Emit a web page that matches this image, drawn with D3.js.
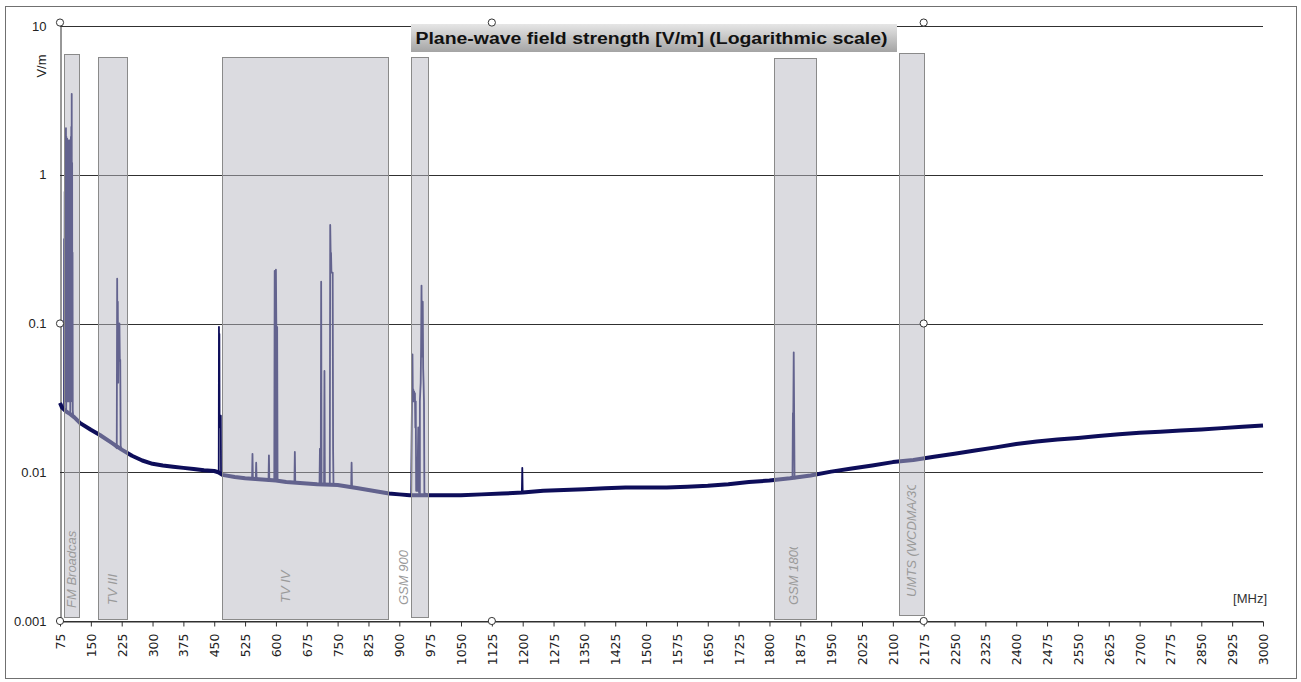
<!DOCTYPE html>
<html><head><meta charset="utf-8">
<script src="https://cdn.jsdelivr.net/npm/d3@7"></script>
<style>body{margin:0;background:#fff;} svg{display:block}</style>
</head><body><svg id="chart" width="1301" height="682"></svg>
<script>
// ---------------- DATA ----------------
const chartTitle = "Plane-wave field strength [V/m] (Logarithmic scale)";
const yUnit = "V/m";
const xUnit = "[MHz]";

const xTickValues = [75,150,225,300,375,450,525,600,675,750,825,900,975,1050,1125,1200,1275,1350,1425,1500,1575,1650,1725,1800,1875,1950,2025,2100,2175,2250,2325,2400,2475,2550,2625,2700,2775,2850,2925,3000];
const yTickValues = [10, 1, 0.1, 0.01, 0.001];
const yTickLabels = ["10", "1", "0.1", "0.01", "0.001"];

// frequency bands (MHz) and their vertical extent (V/m)
const bandNames     = ["FM Broadcast", "TV III", "TV IV", "GSM 900", "GSM 1800", "UMTS (WCDMA/3G)"];
const bandStartMHz  = [85, 167, 470, 929, 1811, 2114];
const bandEndMHz    = [121, 238, 872, 969, 1913, 2176];
const bandTopVm     = [6.48, 6.19, 6.19, 6.19, 6.05, 6.58];
const bandBottomVm  = [0.00107, 0.00103, 0.00103, 0.00107, 0.00103, 0.00110];
const bandLabelMHz  = [104, 203, 622, 910, 1858, 2146];

// measured field strength: smooth floor [MHz, V/m]
const floorReadings = [
 [75,0.0292],[80,0.0272],[90,0.0256],[100,0.0246],[110,0.0234],[124,0.0214],[150,0.0193],[172,0.0178],
 [200,0.0158],[225,0.0142],[250,0.0129],[275,0.0120],[300,0.0114],[325,0.0111],[350,0.0109],[375,0.0107],
 [400,0.0105],[425,0.0103],[450,0.0102],[460,0.0100],[470,0.0096],[500,0.0093],[525,0.0091],[550,0.0090],
 [575,0.0089],[600,0.0088],[625,0.0086],[650,0.0085],[675,0.0084],[700,0.0083],[750,0.0082],[800,0.0078],
 [825,0.0076],[850,0.0074],[875,0.0072],[900,0.0071],[925,0.0070],[950,0.0070],[975,0.0070],[1000,0.0070],
 [1050,0.0070],[1100,0.0071],[1150,0.0072],[1200,0.0073],[1250,0.0075],[1300,0.0076],[1350,0.0077],[1400,0.0078],
 [1450,0.0079],[1500,0.0079],[1550,0.0079],[1600,0.0080],[1650,0.0081],[1700,0.0083],[1750,0.0086],[1800,0.0088],
 [1850,0.0091],[1900,0.0095],[1950,0.0101],[2000,0.0106],[2050,0.0111],[2100,0.0117],[2150,0.0121],[2200,0.0127],
 [2250,0.0133],[2300,0.0140],[2350,0.0147],[2400,0.0155],[2450,0.0161],[2500,0.0166],[2550,0.0170],[2600,0.0175],
 [2650,0.0180],[2700,0.0184],[2750,0.0187],[2800,0.0191],[2850,0.0194],[2900,0.0198],[2950,0.0202],[3000,0.0206]
];

// emission peaks [MHz, V/m]
const fmPeaks = [
 [85,0.027],[85.5,0.37],[86,0.03],[86.5,0.77],[87,0.04],[87.5,1.3],[88,0.03],[88.5,2.0],[89,0.03],[89.5,2.06],
 [90.2,0.03],[90.5,1.8],[91,0.03],[91.5,1.7],[92,0.03],[92.5,1.75],[93,0.03],[93.5,1.6],[94,0.03],[94.5,1.7],
 [95,0.03],[95.5,1.65],[96,0.03],[96.5,1.7],[97,0.03],[97.5,1.6],[98,0.03],[98.5,1.7],[99,0.03],[99.5,1.6],
 [100.2,0.03],[100.5,1.5],[101,0.03],[101.5,1.8],[102,0.03],[102.5,2.1],[103,0.04],[103.5,3.5],[104,0.05],
 [104.5,1.2],[105,0.04],[105.5,0.3],[106,0.026],[107,0.024]
];
const tv3Peaks = [[213,0.0145],[214,0.2],[214.6,0.05],[215.5,0.14],[216.5,0.04],[217.5,0.1],[218.5,0.057],[219.5,0.1],[220.5,0.056],[221.5,0.057],[222.5,0.015]];
const uhfPeaks = [
 [461,0.0101],[461.5,0.095],[462,0.02],[462.5,0.085],[463,0.023],[464,0.022],[465,0.023],[466,0.024],[466.5,0.0098],
 [542,0.0090],[543,0.0133],[544,0.0090],[551,0.0089],[552,0.0116],[553,0.0089],[582,0.0088],[583,0.013],[584,0.0088],
 [596,0.0088],[597,0.226],[599,0.226],[600,0.23],[601,0.095],[603,0.095],[604,0.0088],
 [645,0.0085],[646,0.0137],[647,0.0085],[706,0.0083],[707,0.0144],[708,0.0083],[709,0.0083],[710,0.191],[711,0.0083],
 [717,0.0083],[718,0.048],[719,0.0083],[731,0.0082],[732,0.46],[733,0.30],[734,0.298],[735,0.22],[738,0.22],[739,0.0144],[740,0.0082],
 [783,0.0080],[784,0.0116],[785,0.0080]
];
const gsm900Peaks = [
 [929,0.0070],[931,0.035],[932,0.062],[933,0.03],[934,0.036],[935,0.03],[936,0.035],[937,0.03],[938,0.034],[939,0.02],[940,0.03],[941,0.0075],
 [944,0.0075],[946,0.02],[947,0.0075],[950,0.03],[951,0.035],[952,0.04],[953,0.07],[954,0.18],[955,0.06],[956,0.14],[957,0.14],[958,0.05],
 [959,0.04],[960,0.03],[961,0.0072],[963,0.0072]
];
const lBandPeaks = [[1198,0.0073],[1199,0.0107],[1200,0.0073],[1856,0.0091],[1857,0.025],[1858,0.0249],[1859,0.064],[1860,0.025],[1861,0.0091]];

// selection handles around the chart object [MHz, V/m]
const handleMHz = [75, 1125, 2175];
const handleVm  = [10.55, 0.1, 0.001];

// ---------------- LAYOUT ----------------
const svg = d3.select("#chart");
const plot = {left:60, right:1263, top:26, bottom:621};
const x = d3.scaleLinear().domain([75,3000]).range([plot.left, plot.right]);
const y = d3.scaleLog().domain([0.001,10]).range([plot.bottom, plot.top]);
const labelLayout = { startY:[608,605,603,605,605,597], clipLen:[78,200,200,200,58,112] };

// outer frame
svg.append("rect").attr("x",5.5).attr("y",6.5).attr("width",1291).attr("height",672)
  .attr("fill","#fff").attr("stroke","#707070");

// gridlines
svg.append("g").selectAll("line").data(yTickValues).join("line")
  .attr("x1",plot.left).attr("x2",plot.right)
  .attr("y1",d=>Math.round(y(d))+0.5).attr("y2",d=>Math.round(y(d))+0.5)
  .attr("stroke","#303030").attr("stroke-width",1);

// y axis
const yAxis = svg.append("g").attr("transform",`translate(${plot.left+0.5},0)`)
  .call(d3.axisLeft(y).tickValues(yTickValues).tickSize(0).tickPadding(14)
     .tickFormat((d,i)=>yTickLabels[i]));
yAxis.select(".domain").attr("stroke","#303030");
yAxis.selectAll("text").attr("font-family","Liberation Sans, Arial, sans-serif").attr("font-size",13).attr("fill","#222");

// x axis
const xAxis = svg.append("g").attr("transform",`translate(0,${Math.round(y(0.001))+0.5})`)
  .call(d3.axisBottom(x).tickValues(xTickValues).tickSize(5).tickSizeOuter(0).tickFormat(d3.format("d")));
xAxis.select(".domain").attr("stroke","#303030");
xAxis.selectAll(".tick line").attr("stroke","#303030");
xAxis.selectAll("text").attr("transform","rotate(-90)").attr("text-anchor","end")
  .attr("x",-12).attr("y",0).attr("dy","0.36em")
  .attr("font-family","DejaVu Sans, sans-serif").attr("font-size",12.5).attr("fill","#222");

// data line
const series = floorReadings.concat(fmPeaks, tv3Peaks, uhfPeaks, gsm900Peaks, lBandPeaks)
  .slice().sort((a,b)=>a[0]-b[0]);
const line = d3.line().x(d=>x(d[0])).y(d=>y(d[1]));
svg.append("path").datum(floorReadings).attr("d",line)
  .attr("fill","none").attr("stroke","#0e0e5a").attr("stroke-width",4).attr("stroke-linejoin","round");
svg.append("path").datum(series).attr("d",line)
  .attr("fill","none").attr("stroke","#0e0e5a").attr("stroke-width",1.8).attr("stroke-linejoin","round");

// bands (semi-transparent overlay)
const bands = bandNames.map((n,i)=>({name:n, s:bandStartMHz[i], e:bandEndMHz[i], top:bandTopVm[i], bot:bandBottomVm[i], lx:bandLabelMHz[i], i}));
svg.append("g").selectAll("rect").data(bands).join("rect")
  .attr("x",d=>Math.round(x(d.s))+0.5).attr("width",d=>Math.round(x(d.e))-Math.round(x(d.s)))
  .attr("y",d=>Math.round(y(d.top))+0.5).attr("height",d=>Math.round(y(d.bot))-Math.round(y(d.top)))
  .attr("fill","rgb(184,184,194)").attr("fill-opacity",0.5)
  .attr("stroke","#8a8a8a").attr("stroke-width",1);

// band labels
const defs = svg.append("defs");
bands.forEach(d=>{
  defs.append("clipPath").attr("id","clipLbl"+d.i).append("rect")
    .attr("x",0).attr("y",-10).attr("width",labelLayout.clipLen[d.i]).attr("height",20);
  svg.append("g").attr("transform",`translate(${x(d.lx)},${labelLayout.startY[d.i]}) rotate(-90)`)
    .append("text").attr("clip-path",`url(#clipLbl${d.i})`)
    .attr("x",0).attr("y",0).attr("dy","0.35em")
    .attr("font-family","Liberation Sans, Arial, sans-serif").attr("font-size",13)
    .attr("font-style","italic").attr("fill","#9a9a9a").text(d.name);
});

// title box
const grad = defs.append("linearGradient").attr("id","titleGrad").attr("x1",0).attr("y1",0).attr("x2",0).attr("y2",1);
grad.append("stop").attr("offset","0%").attr("stop-color","#e6e6e6");
grad.append("stop").attr("offset","100%").attr("stop-color","#a4a4a4");
svg.append("rect").attr("x",411).attr("y",24).attr("width",486).attr("height",28).attr("fill","url(#titleGrad)");
svg.append("text").attr("x",651.5).attr("y",44).attr("text-anchor","middle")
  .attr("font-family","Liberation Sans, Arial, sans-serif").attr("font-weight","bold").attr("font-size",16)
  .attr("textLength",472).attr("lengthAdjust","spacingAndGlyphs").attr("fill","#111").text(chartTitle);

// unit labels
svg.append("text").attr("transform","translate(41,66) rotate(-90)").attr("text-anchor","middle").attr("dy","0.35em")
  .attr("font-family","Liberation Sans, Arial, sans-serif").attr("font-size",13).attr("fill","#222").text(yUnit);
svg.append("text").attr("x",1267).attr("y",603).attr("text-anchor","end")
  .attr("font-family","Liberation Sans, Arial, sans-serif").attr("font-size",13).attr("fill","#333").text(xUnit);

// selection handles
const handles = [];
handleVm.forEach((v,r)=>handleMHz.forEach((f,c)=>{ if(!(r===1 && c===1)) handles.push([f,v]); }));
svg.append("g").selectAll("circle").data(handles).join("circle")
  .attr("cx",d=>x(d[0])).attr("cy",d=>y(d[1])).attr("r",3.6)
  .attr("fill","#fff").attr("stroke","#333").attr("stroke-width",1);
</script></body></html>
